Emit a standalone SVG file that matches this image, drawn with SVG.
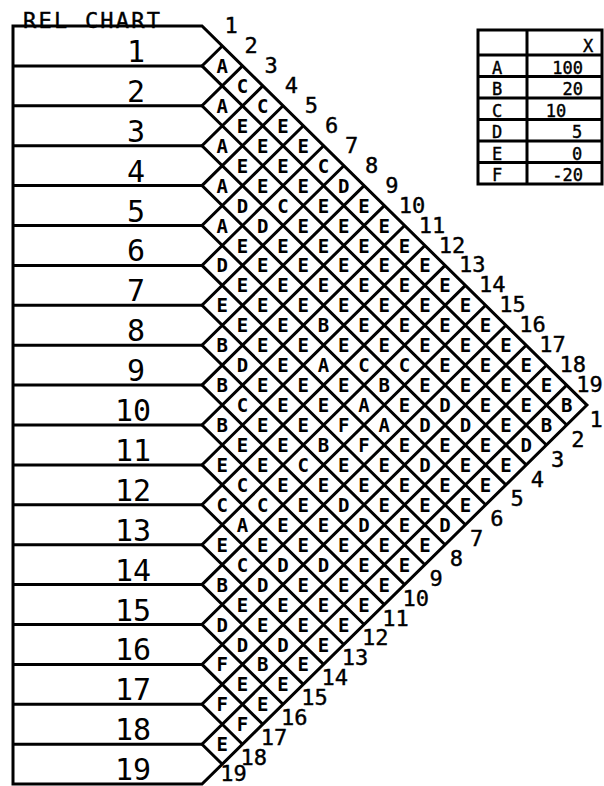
<svg xmlns="http://www.w3.org/2000/svg" width="604" height="786" viewBox="0 0 604 786">
<style>
text{font-family:"DejaVu Sans Mono","Liberation Mono",monospace;fill:#000;text-anchor:middle}
.c{font-size:19px;font-weight:bold}
.rl{font-size:30px}
.n{font-size:22px;stroke:#000;stroke-width:0.4}
.t{font-size:17px;stroke:#000;stroke-width:0.4}
.ln{fill:none;stroke:#000;stroke-width:3;stroke-linejoin:miter}
</style>
<rect width="604" height="786" fill="#fff"/>
<text x="23" y="28" textLength="137" style="text-anchor:start;font-size:22px;stroke:#000;stroke-width:0.4">REL CHART</text>
<g id="connectors">
<path class="ln" d="M13,26 H202 L586.9,405.1 L202,784.1 H13 Z"/>
<path class="ln" d="M13,65.9H202 M13,105.8H202 M13,145.7H202 M13,185.6H202 M13,225.5H202 M13,265.4H202 M13,305.3H202 M13,345.2H202 M13,385.1H202 M13,425H202 M13,464.9H202 M13,504.8H202 M13,544.7H202 M13,584.6H202 M13,624.5H202 M13,664.4H202 M13,704.3H202 M13,744.2H202"/>
<path class="ln" d="M222.3,46 L202,65.9 L566.7,425 M242.5,65.9 L202,105.8 L546.4,445 M262.8,85.9 L202,145.7 L526.2,464.9 M283,105.8 L202,185.6 L505.9,484.9 M303.3,125.8 L202,225.5 L485.6,504.8 M323.6,145.7 L202,265.4 L465.4,524.8 M343.8,165.7 L202,305.3 L445.1,544.7 M364.1,185.6 L202,345.2 L424.9,564.7 M384.3,205.6 L202,385.1 L404.6,584.6 M404.6,225.5 L202,425 L384.3,604.6 M424.9,245.5 L202,464.9 L364.1,624.5 M445.1,265.4 L202,504.8 L343.8,644.5 M465.4,285.4 L202,544.7 L323.6,664.4 M485.6,305.3 L202,584.6 L303.3,684.4 M505.9,325.3 L202,624.5 L283,704.3 M526.2,345.2 L202,664.4 L262.8,724.3 M546.4,365.2 L202,704.3 L242.5,744.2 M566.7,385.1 L202,744.2 L222.3,764.2"/>
</g>
<g id="rows">
<g id="row-1"><text class="rl" x="136" y="61.9">1</text></g>
<g id="row-2"><text class="rl" x="136" y="101.8">2</text></g>
<g id="row-3"><text class="rl" x="136" y="141.7">3</text></g>
<g id="row-4"><text class="rl" x="136" y="181.6">4</text></g>
<g id="row-5"><text class="rl" x="136" y="221.5">5</text></g>
<g id="row-6"><text class="rl" x="136" y="261.4">6</text></g>
<g id="row-7"><text class="rl" x="136" y="301.3">7</text></g>
<g id="row-8"><text class="rl" x="136" y="341.2">8</text></g>
<g id="row-9"><text class="rl" x="136" y="381.1">9</text></g>
<g id="row-10"><text class="rl" x="133" y="421">10</text></g>
<g id="row-11"><text class="rl" x="133" y="460.9">11</text></g>
<g id="row-12"><text class="rl" x="133" y="500.8">12</text></g>
<g id="row-13"><text class="rl" x="133" y="540.7">13</text></g>
<g id="row-14"><text class="rl" x="133" y="580.6">14</text></g>
<g id="row-15"><text class="rl" x="133" y="620.5">15</text></g>
<g id="row-16"><text class="rl" x="133" y="660.4">16</text></g>
<g id="row-17"><text class="rl" x="133" y="700.3">17</text></g>
<g id="row-18"><text class="rl" x="133" y="740.2">18</text></g>
<g id="row-19"><text class="rl" x="133" y="780.1">19</text></g>
</g>
<g id="top-numbers">
<text class="n" x="231" y="33">1</text><text class="n" x="251.1" y="53">2</text><text class="n" x="271.2" y="72.9">3</text><text class="n" x="291.3" y="92.9">4</text><text class="n" x="311.4" y="112.8">5</text><text class="n" x="331.5" y="132.8">6</text><text class="n" x="351.6" y="152.7">7</text><text class="n" x="371.7" y="172.7">8</text><text class="n" x="391.8" y="192.6">9</text><text class="n" x="411.9" y="212.6">10</text><text class="n" x="432" y="232.5">11</text><text class="n" x="452.1" y="252.5">12</text><text class="n" x="472.2" y="272.4">13</text><text class="n" x="492.3" y="292.4">14</text><text class="n" x="512.4" y="312.3">15</text><text class="n" x="532.5" y="332.3">16</text><text class="n" x="552.6" y="352.2">17</text><text class="n" x="572.7" y="372.2">18</text><text class="n" x="589.5" y="392.1">19</text>
</g>
<g id="bottom-numbers">
<text class="n" x="596" y="427">1</text><text class="n" x="577.8" y="446.9">2</text><text class="n" x="557.5" y="466.7">3</text><text class="n" x="537.3" y="486.6">4</text><text class="n" x="517" y="506.4">5</text><text class="n" x="496.8" y="526.3">6</text><text class="n" x="476.5" y="546.1">7</text><text class="n" x="456.3" y="566">8</text><text class="n" x="436" y="585.8">9</text><text class="n" x="415.8" y="605.7">10</text><text class="n" x="395.5" y="625.5">11</text><text class="n" x="375.3" y="645.4">12</text><text class="n" x="355" y="665.2">13</text><text class="n" x="334.8" y="685.1">14</text><text class="n" x="314.5" y="704.9">15</text><text class="n" x="294.3" y="724.8">16</text><text class="n" x="274" y="744.6">17</text><text class="n" x="253.8" y="764.5">18</text><text class="n" x="233.5" y="780.5">19</text>
</g>
<g id="cells">
<g transform="translate(0,72.9)"><text class="c" x="222.3">A</text></g>
<g transform="translate(0,92.9)"><text class="c" x="242.5">C</text></g>
<g transform="translate(0,112.8)"><text class="c" x="222.3">A</text><text class="c" x="262.8">C</text></g>
<g transform="translate(0,132.8)"><text class="c" x="242.5">E</text><text class="c" x="283">E</text></g>
<g transform="translate(0,152.7)"><text class="c" x="222.3">A</text><text class="c" x="262.8">E</text><text class="c" x="303.3">E</text></g>
<g transform="translate(0,172.7)"><text class="c" x="242.5">E</text><text class="c" x="283">E</text><text class="c" x="323.6">C</text></g>
<g transform="translate(0,192.6)"><text class="c" x="222.3">A</text><text class="c" x="262.8">E</text><text class="c" x="303.3">E</text><text class="c" x="343.8">D</text></g>
<g transform="translate(0,212.6)"><text class="c" x="242.5">D</text><text class="c" x="283">C</text><text class="c" x="323.6">E</text><text class="c" x="364.1">E</text></g>
<g transform="translate(0,232.5)"><text class="c" x="222.3">A</text><text class="c" x="262.8">D</text><text class="c" x="303.3">E</text><text class="c" x="343.8">E</text><text class="c" x="384.3">E</text></g>
<g transform="translate(0,252.5)"><text class="c" x="242.5">E</text><text class="c" x="283">E</text><text class="c" x="323.6">E</text><text class="c" x="364.1">E</text><text class="c" x="404.6">E</text></g>
<g transform="translate(0,272.4)"><text class="c" x="222.3">D</text><text class="c" x="262.8">E</text><text class="c" x="303.3">E</text><text class="c" x="343.8">E</text><text class="c" x="384.3">E</text><text class="c" x="424.9">E</text></g>
<g transform="translate(0,292.4)"><text class="c" x="242.5">E</text><text class="c" x="283">E</text><text class="c" x="323.6">E</text><text class="c" x="364.1">E</text><text class="c" x="404.6">E</text><text class="c" x="445.1">E</text></g>
<g transform="translate(0,312.3)"><text class="c" x="222.3">E</text><text class="c" x="262.8">E</text><text class="c" x="303.3">E</text><text class="c" x="343.8">E</text><text class="c" x="384.3">E</text><text class="c" x="424.9">E</text><text class="c" x="465.4">E</text></g>
<g transform="translate(0,332.3)"><text class="c" x="242.5">E</text><text class="c" x="283">E</text><text class="c" x="323.6">B</text><text class="c" x="364.1">E</text><text class="c" x="404.6">E</text><text class="c" x="445.1">E</text><text class="c" x="485.6">E</text></g>
<g transform="translate(0,352.2)"><text class="c" x="222.3">B</text><text class="c" x="262.8">E</text><text class="c" x="303.3">E</text><text class="c" x="343.8">E</text><text class="c" x="384.3">E</text><text class="c" x="424.9">E</text><text class="c" x="465.4">E</text><text class="c" x="505.9">E</text></g>
<g transform="translate(0,372.2)"><text class="c" x="242.5">D</text><text class="c" x="283">E</text><text class="c" x="323.6">A</text><text class="c" x="364.1">C</text><text class="c" x="404.6">C</text><text class="c" x="445.1">E</text><text class="c" x="485.6">E</text><text class="c" x="526.2">E</text></g>
<g transform="translate(0,392.1)"><text class="c" x="222.3">B</text><text class="c" x="262.8">E</text><text class="c" x="303.3">E</text><text class="c" x="343.8">E</text><text class="c" x="384.3">B</text><text class="c" x="424.9">E</text><text class="c" x="465.4">E</text><text class="c" x="505.9">E</text><text class="c" x="546.4">E</text></g>
<g transform="translate(0,412.1)"><text class="c" x="242.5">C</text><text class="c" x="283">E</text><text class="c" x="323.6">E</text><text class="c" x="364.1">A</text><text class="c" x="404.6">E</text><text class="c" x="445.1">D</text><text class="c" x="485.6">E</text><text class="c" x="526.2">E</text><text class="c" x="566.7">B</text></g>
<g transform="translate(0,432)"><text class="c" x="222.3">B</text><text class="c" x="262.8">E</text><text class="c" x="303.3">E</text><text class="c" x="343.8">F</text><text class="c" x="384.3">A</text><text class="c" x="424.9">D</text><text class="c" x="465.4">D</text><text class="c" x="505.9">E</text><text class="c" x="546.4">B</text></g>
<g transform="translate(0,452)"><text class="c" x="242.5">E</text><text class="c" x="283">E</text><text class="c" x="323.6">B</text><text class="c" x="364.1">F</text><text class="c" x="404.6">E</text><text class="c" x="445.1">E</text><text class="c" x="485.6">E</text><text class="c" x="526.2">D</text></g>
<g transform="translate(0,471.9)"><text class="c" x="222.3">E</text><text class="c" x="262.8">E</text><text class="c" x="303.3">C</text><text class="c" x="343.8">E</text><text class="c" x="384.3">E</text><text class="c" x="424.9">D</text><text class="c" x="465.4">E</text><text class="c" x="505.9">E</text></g>
<g transform="translate(0,491.9)"><text class="c" x="242.5">C</text><text class="c" x="283">E</text><text class="c" x="323.6">E</text><text class="c" x="364.1">E</text><text class="c" x="404.6">E</text><text class="c" x="445.1">E</text><text class="c" x="485.6">E</text></g>
<g transform="translate(0,511.8)"><text class="c" x="222.3">C</text><text class="c" x="262.8">C</text><text class="c" x="303.3">E</text><text class="c" x="343.8">D</text><text class="c" x="384.3">E</text><text class="c" x="424.9">E</text><text class="c" x="465.4">E</text></g>
<g transform="translate(0,531.8)"><text class="c" x="242.5">A</text><text class="c" x="283">E</text><text class="c" x="323.6">E</text><text class="c" x="364.1">D</text><text class="c" x="404.6">E</text><text class="c" x="445.1">D</text></g>
<g transform="translate(0,551.7)"><text class="c" x="222.3">E</text><text class="c" x="262.8">E</text><text class="c" x="303.3">E</text><text class="c" x="343.8">E</text><text class="c" x="384.3">E</text><text class="c" x="424.9">E</text></g>
<g transform="translate(0,571.7)"><text class="c" x="242.5">C</text><text class="c" x="283">D</text><text class="c" x="323.6">D</text><text class="c" x="364.1">E</text><text class="c" x="404.6">E</text></g>
<g transform="translate(0,591.6)"><text class="c" x="222.3">B</text><text class="c" x="262.8">D</text><text class="c" x="303.3">E</text><text class="c" x="343.8">E</text><text class="c" x="384.3">E</text></g>
<g transform="translate(0,611.6)"><text class="c" x="242.5">E</text><text class="c" x="283">E</text><text class="c" x="323.6">E</text><text class="c" x="364.1">E</text></g>
<g transform="translate(0,631.5)"><text class="c" x="222.3">D</text><text class="c" x="262.8">E</text><text class="c" x="303.3">E</text><text class="c" x="343.8">E</text></g>
<g transform="translate(0,651.5)"><text class="c" x="242.5">D</text><text class="c" x="283">D</text><text class="c" x="323.6">E</text></g>
<g transform="translate(0,671.4)"><text class="c" x="222.3">F</text><text class="c" x="262.8">B</text><text class="c" x="303.3">E</text></g>
<g transform="translate(0,691.4)"><text class="c" x="242.5">E</text><text class="c" x="283">E</text></g>
<g transform="translate(0,711.3)"><text class="c" x="222.3">F</text><text class="c" x="262.8">E</text></g>
<g transform="translate(0,731.3)"><text class="c" x="242.5">F</text></g>
<g transform="translate(0,751.2)"><text class="c" x="222.3">E</text></g>
</g>
<g id="legend">
<rect class="ln" x="478" y="30" width="124" height="154"/>
<path class="ln" d="M478,55H602 M478,76.5H602 M478,98H602 M478,119.5H602 M478,141H602 M478,162.5H602 M527,30V184"/>
<text class="t" x="588" y="52">X</text>
<text class="t" x="497" y="73.5">A</text><text class="t" x="583" y="73.5" style="text-anchor:end">100</text>
<text class="t" x="497" y="95">B</text><text class="t" x="583" y="95" style="text-anchor:end">20</text>
<text class="t" x="497" y="116.5">C</text><text class="t" x="556" y="116.5">10</text>
<text class="t" x="497" y="138">D</text><text class="t" x="577" y="138">5</text>
<text class="t" x="497" y="159.5">E</text><text class="t" x="577" y="159.5">0</text>
<text class="t" x="497" y="181">F</text><text class="t" x="583" y="181" style="text-anchor:end">-20</text>
</g>
</svg>
